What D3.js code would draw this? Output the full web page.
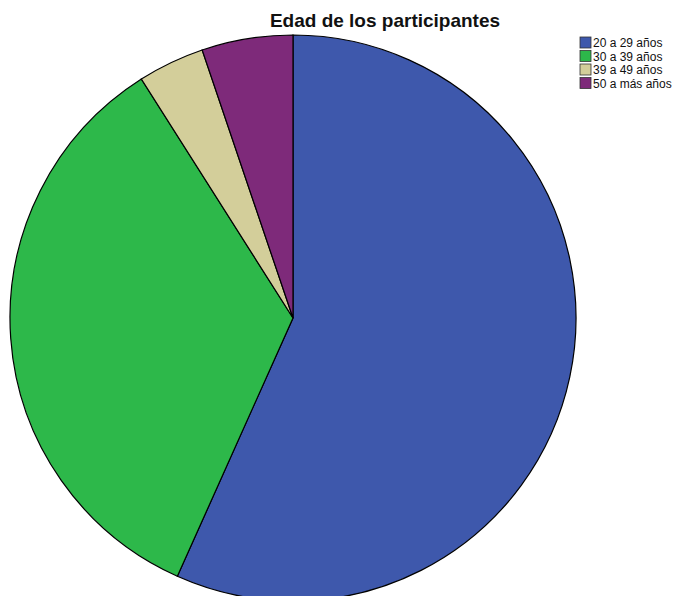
<!DOCTYPE html>
<html><head><meta charset="utf-8">
<script src="https://cdn.jsdelivr.net/npm/d3@7/dist/d3.min.js"></script>
<style>body{margin:0;background:#fff}svg{display:block}</style>
</head><body>
<script>
const categories = ["20 a 29 años", "30 a 39 años", "39 a 49 años", "50 a más años"];
const values = [56.7, 34.3, 3.8, 5.2];
const colors = ["#3e58ac", "#2db84a", "#d3ce9a", "#7e2a7a"];
const title = "Edad de los participantes";

const W = 680, H = 596;
const svg = d3.select("body").append("svg").attr("width", W).attr("height", H);
const cx = 293, cy = 318, r = 283;

const pie = d3.pie().sort(null).value(d => d.v);
const arc = d3.arc().innerRadius(0).outerRadius(r);
const data = categories.map((c, i) => ({c, v: values[i], col: colors[i]}));

svg.append("g").attr("transform", `translate(${cx},${cy})`)
  .selectAll("path").data(pie(data)).join("path")
  .attr("d", arc).attr("fill", d => d.data.col)
  .attr("stroke", "#000").attr("stroke-width", 1.2);

svg.append("text").attr("x", 385).attr("y", 27).attr("text-anchor", "middle")
  .attr("font-family", "Liberation Sans, Arial, sans-serif").attr("font-weight", "bold")
  .attr("font-size", 19).attr("fill", "#111").text(title);

const lg = svg.append("g").attr("transform", "translate(580,37)");
const item = lg.selectAll("g").data(data).join("g")
  .attr("transform", (d, i) => `translate(0,${i * 13.5})`);
item.append("rect").attr("x", 0).attr("y", 0).attr("width", 11).attr("height", 11)
  .attr("fill", d => d.col).attr("stroke", "#333").attr("stroke-width", 0.8);
item.append("text").attr("x", 13).attr("y", 10)
  .attr("font-family", "Liberation Sans, Arial, sans-serif").attr("font-size", 12)
  .attr("fill", "#111").text(d => d.c);
</script>
</body></html>
